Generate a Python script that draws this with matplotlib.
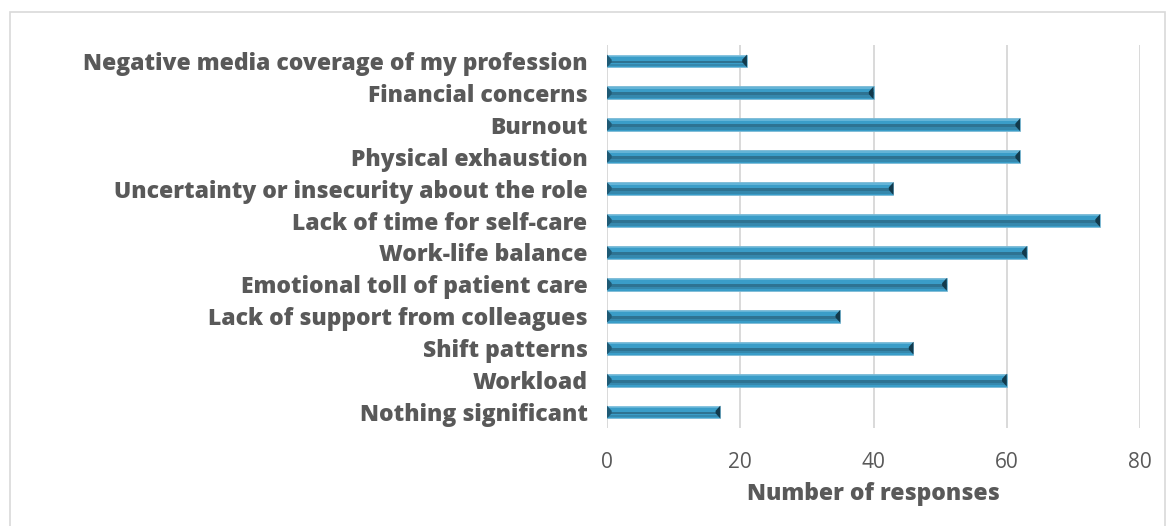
import matplotlib
matplotlib.use("Agg")
import matplotlib.pyplot as plt
from matplotlib.patches import Rectangle

plt.rcParams['font.family'] = ['Open Sans', 'DejaVu Sans']

categories = [
    "Nothing significant",
    "Workload",
    "Shift patterns",
    "Lack of support from colleagues",
    "Emotional toll of patient care",
    "Work-life balance",
    "Lack of time for self-care",
    "Uncertainty or insecurity about the role",
    "Physical exhaustion",
    "Burnout",
    "Financial concerns",
    "Negative media coverage of my profession",
]
responses = [17, 60, 46, 35, 51, 63, 74, 43, 62, 62, 40, 21]
x_ticks = [0, 20, 40, 60, 80]

W, H = 1173, 526
fig = plt.figure(figsize=(W / 100, H / 100), dpi=100)
fig.patch.set_facecolor("white")

# chart frame
fig.add_artist(Rectangle((10 / W, -0.01), (1165 - 10) / W, 1 - 12 / H + 0.01,
                         transform=fig.transFigure, fill=False,
                         edgecolor="#d9d9d9", linewidth=1.2))

ax = fig.add_axes([607 / W, 1 - 428 / H, (1140 - 607) / W, (428 - 45) / H])

ypos = list(range(len(categories)))
bh = 0.40
base = "#3a9dc8"
dark = "#2a6580"
light = "#8fcbe6"

# bevelled bars: base, highlight at top edge, darker lower band, dark end caps
ax.barh(ypos, responses, height=bh, color=base, edgecolor="#7fbcd6",
        linewidth=0.6, zorder=3)
ax.barh([y - bh * 0.08 for y in ypos], responses, height=bh * 0.22,
        color=dark, alpha=0.75, linewidth=0, zorder=4)
ax.barh([y - bh * 0.3 for y in ypos], responses, height=bh * 0.2,
        color="#3588ad", linewidth=0, zorder=4)
ax.barh([y + bh * 0.38 for y in ypos], responses, height=bh * 0.12,
        color=light, alpha=0.5, linewidth=0, zorder=4)
cap = 0.7
for y, v in zip(ypos, responses):
    ax.fill([v, v - cap, v - cap, v], [y + bh / 2, y + bh * 0.1, y - bh * 0.1, y - bh / 2],
            color="#123a4c", linewidth=0, zorder=5)
    ax.fill([0, cap, cap, 0], [y + bh / 2, y + bh * 0.1, y - bh * 0.1, y - bh / 2],
            color="#1f5a75", linewidth=0, zorder=5)

ax.set_xlim(0, 80)
ax.set_ylim(-0.5, len(categories) - 0.5)
ax.set_xticks(x_ticks)
ax.set_yticks(ypos)
ax.set_yticklabels(categories, fontsize=16.5, fontweight="heavy", color="#595959")
ax.tick_params(axis="y", length=0, pad=14)
ax.tick_params(axis="x", length=0, pad=17, labelsize=15, labelcolor="#595959")
ax.grid(axis="x", color="#d9d9d9", linewidth=1.4, zorder=0)
ax.set_axisbelow(True)
for s in ax.spines.values():
    s.set_visible(False)

ax.set_xlabel("Number of responses", fontsize=16.5, fontweight="heavy",
              color="#595959", labelpad=7)

fig.savefig("out.png", dpi=100, facecolor="white")
